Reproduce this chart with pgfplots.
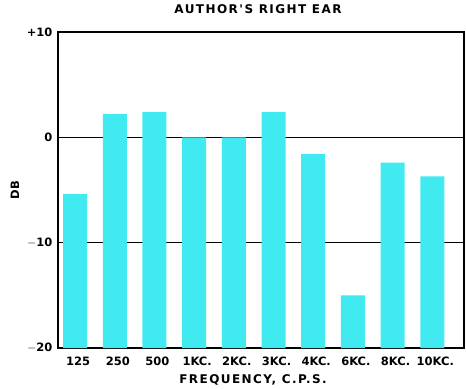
\documentclass[border=0pt]{standalone}
\usepackage{pgfplots}
\pgfplotsset{compat=1.18}
\usepackage{pgfplotstable}
\usepackage{fontspec}
\setmainfont{DejaVu Sans}
\newfontfamily\spaced[LetterSpace=12]{DejaVu Sans}
\definecolor{barcyan}{RGB}{64,234,240}
\pgfplotstableread{
x db
0 -5.4
1 2.2
2 2.4
3 0
4 0
5 2.4
6 -1.6
7 -15.0
8 -2.4
9 -3.7
}\datatable
\begin{document}
\begin{tikzpicture}
\begin{axis}[
  scale only axis,
  width=406pt, height=316pt,
  xmin=-0.43, xmax=9.8,
  ymin=0, ymax=30,
  ytick={0,10,20,30},
  yticklabels={$-$20,$-$10,0,+10},
  xtick={0,...,9},
  xticklabels={125,250,500,1KC.,2KC.,3KC.,4KC.,6KC.,8KC.,10KC.},
  tick style={draw=none},
  ymajorgrids,
  grid style={black, line width=0.9pt},
  axis line style={line width=1.3pt},
  ticklabel style={font=\bfseries\fontsize{11.5}{13}\selectfont},
  yticklabel style={xshift=-2pt},
  xticklabel style={yshift=-1pt, xshift=3pt},
  /pgf/number format/assume math mode=true,
  title={\spaced\bfseries AUTHOR'S RIGHT EAR},
  title style={font=\fontsize{12}{13}\selectfont, at={(axis description cs:0.5,1)}, anchor=center, yshift=17pt, xshift=-3pt},
  xlabel={\spaced\bfseries FREQUENCY, C.P.S.},
  xlabel style={font=\fontsize{12}{13}\selectfont, at={(axis description cs:0.5,0)}, anchor=center, yshift=-32pt, xshift=-8pt},
  ylabel={\bfseries DB},
  ylabel style={font=\fontsize{11.5}{13}\selectfont, at={(axis description cs:0,0.5)}, anchor=center, yshift=43pt},
  ybar, bar width=24pt,
]
\addplot[fill=barcyan, draw=none] table[x=x, y expr=\thisrow{db}+20] {\datatable};
\end{axis}
\path (current axis.south west) +(-58pt,-39pt) (current axis.north east) +(2pt,32pt);
\end{tikzpicture}
\end{document}
